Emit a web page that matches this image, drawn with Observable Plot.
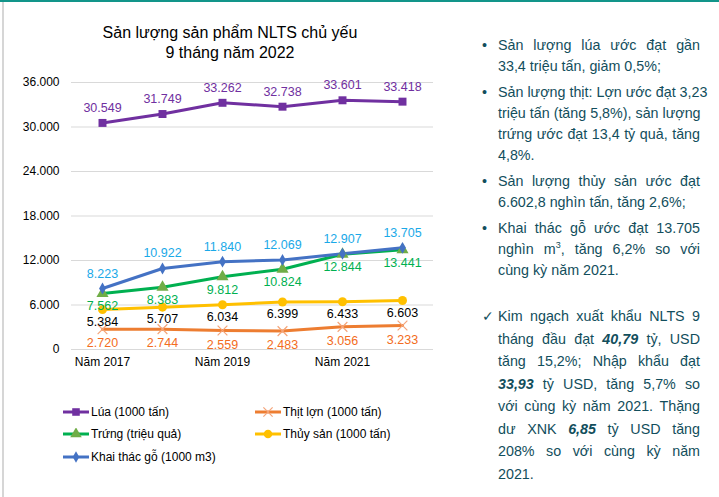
<!DOCTYPE html>
<html>
<head>
<meta charset="utf-8">
<script src="https://cdn.jsdelivr.net/npm/d3@7"></script>
<script src="https://cdn.jsdelivr.net/npm/@observablehq/plot@0.6"></script>
<style>
  html, body { margin: 0; padding: 0; background: #fff; }
  body { width: 719px; height: 497px; position: relative; overflow: hidden; font-family: "Liberation Sans", Arial, sans-serif; }
  #topline { position: absolute; left: 0; top: 0; width: 719px; height: 2px; background: #12958a; }
  #leftline { position: absolute; left: 2px; top: 2px; width: 2px; height: 495px; background: #d6d6d6; }
  #chart { position: absolute; left: 0; top: 0; }
  #chart svg { background: transparent; }
  #title { position: absolute; left: 80px; width: 300px; top: 23px; text-align: center; font-size: 16px; line-height: 19.5px; color: #000; }
  #legend { position: absolute; left: 63px; top: 402px; font-size: 12px; color: #000; }
  .lg { position: absolute; white-space: nowrap; height: 20px; line-height: 20px; }
  .lg svg { position: absolute; left: 0; top: 4px; }
  .lg span { position: absolute; left: 28px; top: 0; }
  .txt { position: absolute; left: 482px; width: 220px; color: #124e5c; font-size: 14.3px; }
  .p { position: relative; padding-left: 16px; }
  .p .b { position: absolute; left: 0; top: 0; }
  .l { white-space: nowrap; text-align: justify; text-align-last: justify; width: 202px; }
  .l.end { text-align-last: left; }
  #t1 { top: 35px; line-height: 21px; }
  #t1 .p { margin-bottom: 5px; }
  #t2 { top: 305px; line-height: 22.5px; }
</style>
</head>
<body>
<div id="chart"></div>
<div id="topline"></div>
<div id="leftline"></div>
<div id="title">Sản lượng sản phẩm NLTS chủ yếu<br>9 tháng năm 2022</div>
<div id="legend"></div>

<div class="txt" id="t1">
  <div class="p"><span class="b">•</span>
    <div class="l">Sản lượng lúa ước đạt gần</div>
    <div class="l end">33,4 triệu tấn, giảm 0,5%;</div>
  </div>
  <div class="p"><span class="b">•</span>
    <div class="l">Sản lượng thịt: Lợn ước đạt 3,23</div>
    <div class="l">triệu tấn (tăng 5,8%), sản lượng</div>
    <div class="l">trứng ước đạt 13,4 tỷ quả, tăng</div>
    <div class="l end">4,8%.</div>
  </div>
  <div class="p"><span class="b">•</span>
    <div class="l">Sản lượng thủy sản ước đạt</div>
    <div class="l end">6.602,8 nghìn tấn, tăng 2,6%;</div>
  </div>
  <div class="p"><span class="b">•</span>
    <div class="l">Khai thác gỗ ước đạt 13.705</div>
    <div class="l">nghìn m<sup style="font-size:9px;line-height:0">3</sup>, tăng 6,2% so với</div>
    <div class="l end">cùng kỳ năm 2021.</div>
  </div>
</div>

<div class="txt" id="t2">
  <div class="p"><span class="b">✓</span>
    <div class="l">Kim ngạch xuất khẩu NLTS 9</div>
    <div class="l">tháng đầu đạt <b><i>40,79</i></b> tỷ, USD</div>
    <div class="l">tăng 15,2%; Nhập khẩu đạt</div>
    <div class="l"><b><i>33,93</i></b> tỷ USD, tăng 5,7% so</div>
    <div class="l">với cùng kỳ năm 2021. Thặng</div>
    <div class="l">dư XNK <b><i>6,85</i></b> tỷ USD tăng</div>
    <div class="l">208% so với cùng kỳ năm</div>
    <div class="l end">2021.</div>
  </div>
</div>

<script>
// ---- Data ----
const years = ["Năm 2017", "Năm 2018", "Năm 2019", "Năm 2020", "Năm 2021", "Năm 2022"];
const xTickLabels = ["Năm 2017", "Năm 2019", "Năm 2021"];
const yTicks = [0, 6000, 12000, 18000, 24000, 30000, 36000];
const seriesNames = ["Lúa (1000 tấn)", "Thịt lợn (1000 tấn)", "Trứng (triệu quả)", "Thủy sản (1000 tấn)", "Khai thác gỗ (1000 m3)"];
const lua = [30549, 31749, 33262, 32738, 33601, 33418];
const thitLon = [2720, 2744, 2559, 2483, 3056, 3233];
const trung = [7562, 8383, 9812, 10824, 12844, 13441];
const thuySan = [5384, 5707, 6034, 6399, 6433, 6603];
const go = [8223, 10922, 11840, 12069, 12907, 13705];

// ---- Styles ----
const styles = [
  { values: lua,     line: "#7030a0", symbol: "square",   r: 4.5, fill: "#7030a0", stroke: "none",    label: "#7030a0", dy: -15 },
  { values: thitLon, line: "#ed7d31", symbol: "times",    r: 4.5, fill: "none",    stroke: "#f4a57a", label: "#f36c21", dy: 14 },
  { values: trung,   line: "#00b050", symbol: "triangle", r: 4.5, fill: "#70ad47", stroke: "none",    label: "#00b050", dy: 13 },
  { values: thuySan, line: "#ffc000", symbol: "circle",   r: 4.5, fill: "#ffc000", stroke: "none",    label: "#000000", dy: 12 },
  { values: go,      line: "#4472c4", symbol: "diamond",  r: 3.6, fill: "#4472c4", stroke: "none",    label: "#1aa9e8", dy: -15 }
];

const fmt = v => d3.format(",")(v).replace(/,/g, ".");

const marks = [
  Plot.gridY(yTicks, { stroke: "#d9d9d9", strokeOpacity: 1, strokeWidth: 1 }),
  Plot.axisY(yTicks, { tickSize: 0, tickPadding: 12, tickFormat: fmt, fontSize: 12, fill: "#000", label: null }),
  Plot.axisX(xTickLabels, { tickSize: 0, tickPadding: 8, fontSize: 12, fill: "#000", label: null })
];

styles.forEach((s, i) => {
  const rows = years.map((y, j) => ({ year: y, value: s.values[j], series: seriesNames[i] }));
  marks.push(Plot.line(rows, { x: "year", y: "value", stroke: s.line, strokeWidth: 3 }));
});
styles.forEach((s, i) => {
  const rows = years.map((y, j) => ({ year: y, value: s.values[j] }));
  marks.push(Plot.dot(rows, { x: "year", y: "value", symbol: s.symbol, r: s.r, fill: s.fill, stroke: s.stroke, strokeWidth: 1.2 }));
});
styles.forEach((s, i) => {
  const rows = years.map((y, j) => ({ year: y, value: s.values[j] }));
  marks.push(Plot.text(rows, { x: "year", y: "value", text: d => fmt(d.value), dy: s.dy, fill: s.label, fontSize: 12.5 }));
});

const plot = Plot.plot({
  width: 460,
  height: 380,
  marginTop: 82,
  marginBottom: 31,
  marginLeft: 71,
  marginRight: 27,
  style: { fontFamily: "Liberation Sans, Arial, sans-serif", background: "transparent" },
  x: { type: "point", domain: years, padding: 0.5, axis: null, label: null },
  y: { domain: [0, 36000], axis: null, label: null },
  marks
});
document.getElementById("chart").appendChild(plot);

// ---- Legend ----
const legendPos = [[0, 0], [192, 0], [0, 22], [192, 22], [0, 45]];
const legend = document.getElementById("legend");
const symMap = { square: d3.symbolSquare, times: d3.symbolTimes, triangle: d3.symbolTriangle, circle: d3.symbolCircle, diamond: d3.symbolDiamond };
styles.forEach((s, i) => {
  const d = document.createElement("div");
  d.className = "lg";
  d.style.left = legendPos[i][0] + "px";
  d.style.top = legendPos[i][1] + "px";
  const p = d3.symbol(symMap[s.symbol], Math.PI * s.r * s.r * 0.9)();
  d.innerHTML = `<svg width="26" height="12" viewBox="0 0 26 12">
    <line x1="0" x2="26" y1="6" y2="6" stroke="${s.line}" stroke-width="3"/>
    <path d="${p}" transform="translate(13,6)" fill="${s.fill}" stroke="${s.stroke}" stroke-width="1.2"/>
  </svg><span>${seriesNames[i]}</span>`;
  legend.appendChild(d);
});
</script>
</body>
</html>
